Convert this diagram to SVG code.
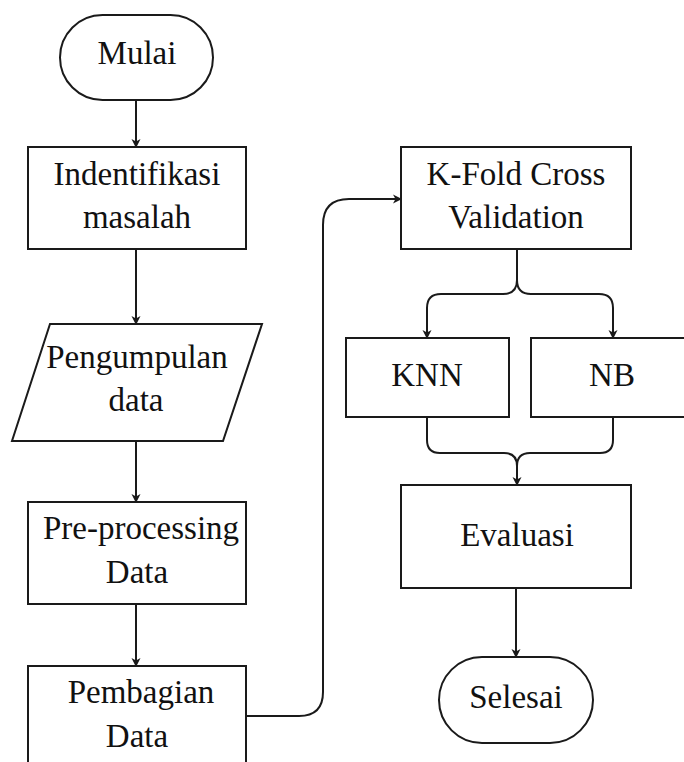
<svg xmlns="http://www.w3.org/2000/svg" width="684" height="762" viewBox="0 0 684 762">
<defs>
<marker id="ah" markerWidth="10" markerHeight="10" refX="8" refY="5" orient="auto" markerUnits="userSpaceOnUse">
<path d="M0,0.5 L9,5 L0,9.5 L2.5,5 Z" fill="#1a1a1a"/>
</marker>
<style>
.n{fill:#fff;stroke:#1a1a1a;stroke-width:2}
.c{fill:none;stroke:#1a1a1a;stroke-width:2;marker-end:url(#ah)}
.c2{fill:none;stroke:#1a1a1a;stroke-width:2}
text{font-family:"Liberation Serif","Times New Roman",serif;font-size:33px;fill:#111;text-anchor:middle}
</style>
</defs>
<rect width="684" height="762" fill="#fff"/>
<g id="connectors">
<path class="c" d="M136,100 V147"/>
<path class="c" d="M136,249 V324"/>
<path class="c" d="M136,441 V502"/>
<path class="c" d="M136,604 V666"/>
<path class="c" d="M246,716 H299 Q323,716 323,692 V225 Q323,199 349,199 H401"/>
<path class="c" d="M517,249 V280 Q517,294 503,294 H441 Q427,294 427,308 V338"/>
<path class="c" d="M517,249 V280 Q517,294 531,294 H599 Q613,294 613,308 V338"/>
<path class="c2" d="M427,417 V440 Q427,453 440,453 H504 Q517,453 517,466"/>
<path class="c2" d="M613,417 V440 Q613,453 600,453 H530 Q517,453 517,466"/>
<path class="c" d="M517,466 V485"/>
<path class="c" d="M516,588 V657"/>
</g>
<g id="mulai">
<rect class="n" x="60" y="15" width="153" height="85" rx="42.5"/>
<text x="137" y="64">Mulai</text>
</g>
<g id="identifikasi">
<rect class="n" x="28" y="147" width="218" height="102"/>
<text x="137" y="185">Indentifikasi</text>
<text x="137" y="228">masalah</text>
</g>
<g id="pengumpulan">
<polygon class="n" points="50,324 262,324 223,441 12,441"/>
<text x="137" y="368">Pengumpulan</text>
<text x="136" y="411">data</text>
</g>
<g id="preprocessing">
<rect class="n" x="28" y="502" width="218" height="102"/>
<text x="141" y="539">Pre-processing</text>
<text x="137" y="583">Data</text>
</g>
<g id="pembagian">
<rect class="n" x="28" y="666" width="218" height="110"/>
<text x="141" y="703">Pembagian</text>
<text x="137" y="747">Data</text>
</g>
<g id="kfold">
<rect class="n" x="401" y="147" width="230" height="102"/>
<text x="516" y="185">K-Fold Cross</text>
<text x="516" y="228">Validation</text>
</g>
<g id="knn">
<rect class="n" x="346" y="338" width="163" height="79"/>
<text x="427" y="386">KNN</text>
</g>
<g id="nb">
<rect class="n" x="531" y="338" width="163" height="79"/>
<text x="612" y="386">NB</text>
</g>
<g id="evaluasi">
<rect class="n" x="401" y="485" width="230" height="103"/>
<text x="517" y="546">Evaluasi</text>
</g>
<g id="selesai">
<rect class="n" x="439" y="657" width="154" height="86" rx="43"/>
<text x="516" y="708">Selesai</text>
</g>
</svg>
